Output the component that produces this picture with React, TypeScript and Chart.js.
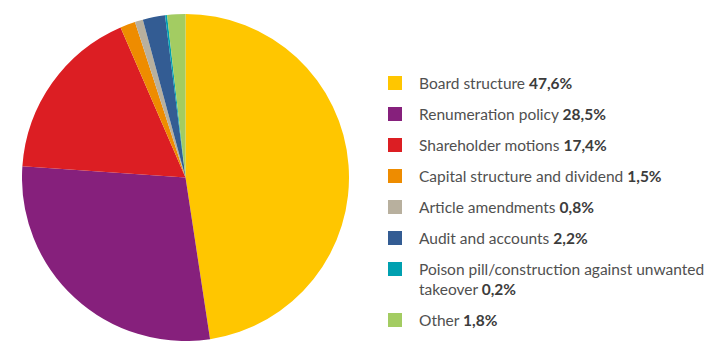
import React, { useEffect, useRef } from "react";
import { Chart, registerables } from "chart.js";

Chart.register(...registerables);

const labels = [
  "Board structure",
  "Renumeration policy",
  "Shareholder motions",
  "Capital structure and dividend",
  "Article amendments",
  "Audit and accounts",
  "Poison pill/construction against unwanted takeover",
  "Other",
];
const values = [47.6, 28.5, 17.4, 1.5, 0.8, 2.2, 0.2, 1.8];
const valueLabels = ["47,6%", "28,5%", "17,4%", "1,5%", "0,8%", "2,2%", "0,2%", "1,8%"];
const colors = ["#FFC600", "#86207C", "#DC1E23", "#EE8C00", "#B8B09E", "#335C93", "#00A0B0", "#A3CC62"];

export default function App() {
  const ref = useRef<HTMLCanvasElement | null>(null);
  useEffect(() => {
    if (!ref.current) return;
    const chart = new Chart(ref.current, {
      type: "pie",
      data: {
        labels,
        datasets: [
          {
            data: values,
            backgroundColor: colors,
            borderWidth: 0,
          },
        ],
      },
      options: {
        responsive: false,
        animation: false,
        layout: { padding: 0 },
        plugins: { legend: { display: false }, tooltip: { enabled: false } },
      },
    });
    return () => chart.destroy();
  }, []);

  return (
    <div style={{ position: "fixed", left: 0, top: 0, width: 709, height: 355, background: "#fff", fontFamily: "Lato, sans-serif" }}>
      <canvas ref={ref} width={327} height={327} style={{ position: "absolute", left: 22, top: 14, width: 327, height: 327 }} />
      <div style={{ position: "absolute", left: 388, top: 73, width: 320 }}>
        {labels.map((l, i) => (
          <div key={i} style={{ display: "flex", alignItems: "flex-start", marginBottom: 11 }}>
            <div style={{ width: 14, height: 14, background: colors[i], flex: "0 0 14px", marginTop: 3 }} />
            <div style={{ marginLeft: 17, fontSize: 15.5, lineHeight: "20px", color: "#505050", width: 305 }}>
              {l} <b style={{ color: "#3c3c3c" }}>{valueLabels[i]}</b>
            </div>
          </div>
        ))}
      </div>
    </div>
  );
}
